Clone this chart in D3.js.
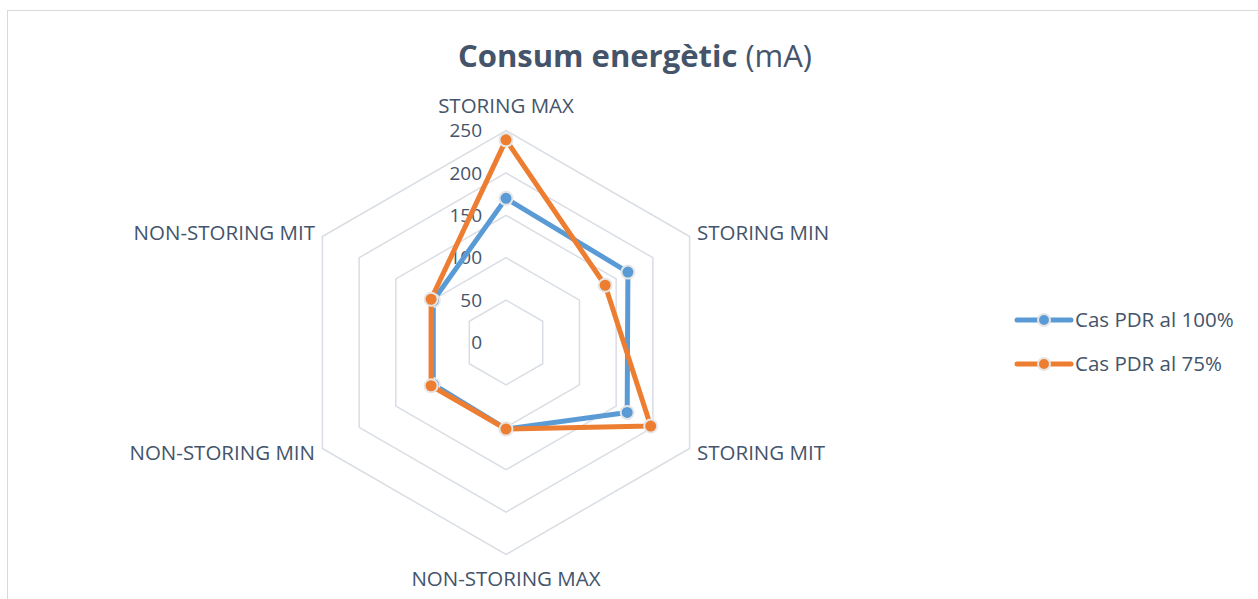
<!DOCTYPE html>
<html>
<head>
<meta charset="utf-8">
<script src="https://cdn.jsdelivr.net/npm/d3@7"></script>
<style>
  body { margin: 0; background: #fff; }
  text { font-family: "Open Sans", "Noto Sans", sans-serif; fill: #44546a; }
</style>
</head>
<body>
<div id="chart"></div>
<script>
// chart data
var categories = ["STORING MAX", "STORING MIN", "STORING MIT", "NON-STORING MAX", "NON-STORING MIN", "NON-STORING MIT"];
var seriesNames = ["Cas PDR al 100%", "Cas PDR al 75%"];
var pdr100 = [170, 166, 165, 102, 99, 99];
var pdr75 = [239, 135, 197, 102, 102, 102];
var tickValues = [0, 50, 100, 150, 200, 250];
var colors = ["#5b9bd5", "#ed7d31"];

var svgWidth = 1258;
var svgHeight = 599;
var cx = 506;
var cy = 342.5;
var radius = 212;

var svg = d3.select("#chart")
  .append("svg")
  .attr("width", svgWidth)
  .attr("height", svgHeight);

// outer chart border (right and bottom edges fall off the picture)
svg.append("rect")
  .attr("x", 7.5)
  .attr("y", 10.5)
  .attr("width", 1300)
  .attr("height", 700)
  .attr("fill", "none")
  .attr("stroke", "#d9d9d9")
  .attr("stroke-width", 1);

// title
var title = svg.append("text")
  .attr("x", 635)
  .attr("y", 67)
  .attr("text-anchor", "middle")
  .style("font-size", "31px");
title.append("tspan").attr("font-weight", "bold").text("Consum energètic");
title.append("tspan").text(" (mA)");

var rScale = d3.scaleLinear().domain([0, 250]).range([0, radius]);
var angle = d3.scaleLinear().domain([0, categories.length]).range([0, 2 * Math.PI]);

var g = svg.append("g").attr("transform", `translate(${cx}, ${cy})`);

// grid hexagons
var ring = d3.lineRadial()
  .angle((d, i) => angle(i))
  .radius(d => rScale(d))
  .curve(d3.curveLinearClosed);

g.selectAll(".grid")
  .data(tickValues.filter(v => v > 0))
  .enter()
  .append("path")
  .attr("class", "grid")
  .attr("d", v => ring(categories.map(() => v)))
  .attr("fill", "none")
  .attr("stroke", "#d9dde4")
  .attr("stroke-width", 1.5);

// tick labels
g.selectAll(".tick")
  .data(tickValues)
  .enter()
  .append("text")
  .attr("class", "tick")
  .attr("x", -24)
  .attr("y", d => -rScale(d))
  .attr("dy", "0.35em")
  .attr("text-anchor", "end")
  .style("font-size", "19px")
  .text(d => d);

// category labels
var labelPos = [
  { x: 0, y: -237, anchor: "middle" },
  { x: 191, y: -110, anchor: "start" },
  { x: 191, y: 110, anchor: "start" },
  { x: 0, y: 236, anchor: "middle" },
  { x: -191, y: 110, anchor: "end" },
  { x: -191, y: -110, anchor: "end" }
];
g.selectAll(".cat")
  .data(categories)
  .enter()
  .append("text")
  .attr("class", "cat")
  .attr("x", (d, i) => labelPos[i].x)
  .attr("y", (d, i) => labelPos[i].y)
  .attr("dy", "0.35em")
  .attr("text-anchor", (d, i) => labelPos[i].anchor)
  .style("font-size", "20.5px")
  .text(d => d);

// series
var allSeries = [pdr100, pdr75];
allSeries.forEach(function(values, s) {
  var sg = g.append("g");
  sg.append("path")
    .attr("d", ring(values))
    .attr("fill", "none")
    .attr("stroke", colors[s])
    .attr("stroke-width", 5)
    .attr("stroke-linejoin", "round");

  sg.selectAll("circle")
    .data(values)
    .enter()
    .append("circle")
    .attr("cx", (d, i) => rScale(d) * Math.sin(angle(i)))
    .attr("cy", (d, i) => -rScale(d) * Math.cos(angle(i)))
    .attr("r", 6.5)
    .attr("fill", colors[s])
    .attr("stroke", "#e7e6e6")
    .attr("stroke-width", 2);
});

// legend
var legend = svg.append("g").attr("transform", "translate(1015, 320)");
seriesNames.forEach(function(name, i) {
  var lg = legend.append("g").attr("transform", `translate(0, ${i * 44})`);
  lg.append("line")
    .attr("x1", 2).attr("x2", 56)
    .attr("y1", 0).attr("y2", 0)
    .attr("stroke", colors[i])
    .attr("stroke-width", 5)
    .attr("stroke-linecap", "round");
  lg.append("circle")
    .attr("cx", 29).attr("cy", 0)
    .attr("r", 6)
    .attr("fill", colors[i])
    .attr("stroke", "#e7e6e6")
    .attr("stroke-width", 2);
  lg.append("text")
    .attr("x", 60)
    .attr("y", 0)
    .attr("dy", "0.35em")
    .style("font-size", "20.5px")
    .text(name);
});
</script>
</body>
</html>
